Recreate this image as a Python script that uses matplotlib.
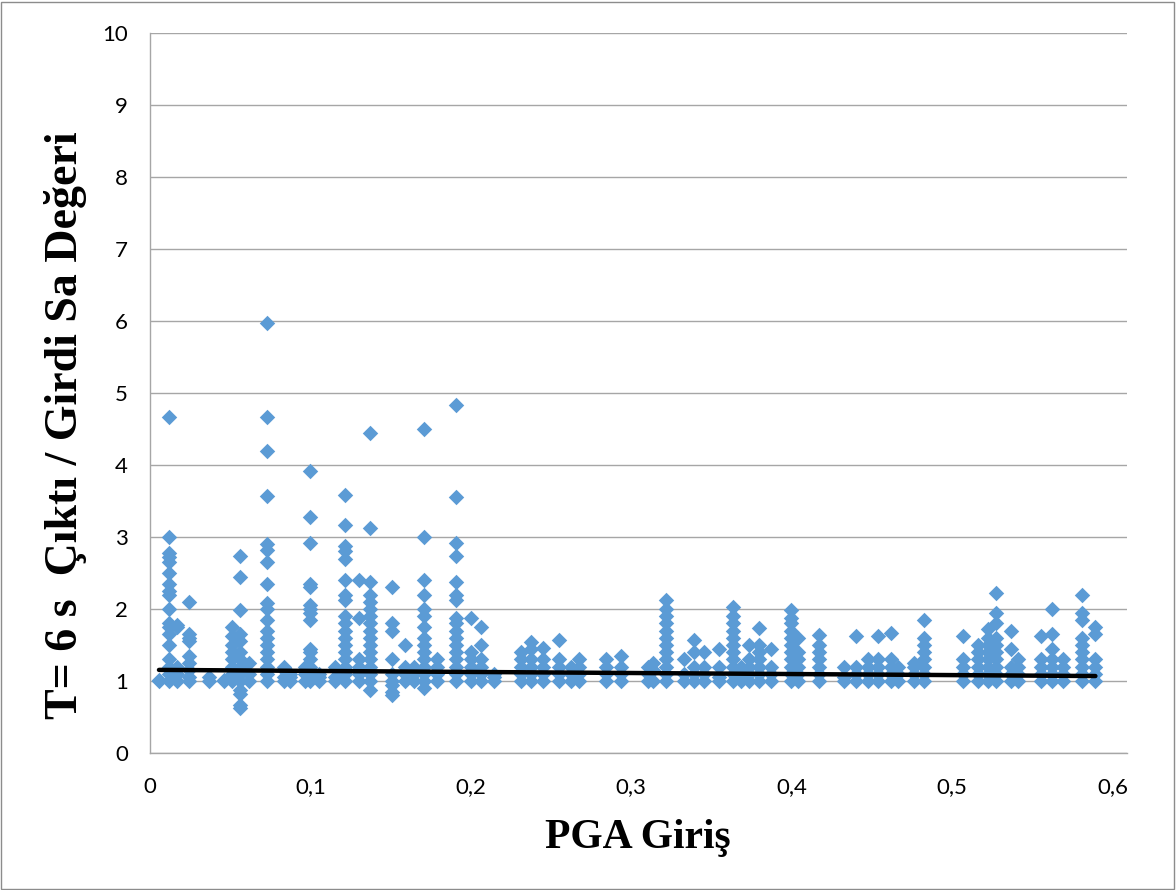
import matplotlib
matplotlib.use("Agg")
import matplotlib.pyplot as plt
import numpy as np
from matplotlib.patches import Rectangle

# PGA levels (x) and the Sa ratios recorded at each level (y)
pga_levels = [0.0056, 0.0118, 0.0168, 0.0243, 0.0367, 0.046, 0.051, 0.056, 0.0616, 0.0728,
              0.0834, 0.0871, 0.0965, 0.0996, 0.1052, 0.1151, 0.1213, 0.130, 0.1369, 0.1506,
              0.1587, 0.1643, 0.1711, 0.1786, 0.191, 0.2004, 0.2066, 0.2147, 0.2315, 0.2377,
              0.2452, 0.2551, 0.2626, 0.2676, 0.2844, 0.2937, 0.3105, 0.3136, 0.3217, 0.3329,
              0.3391, 0.3454, 0.3547, 0.3634, 0.3684, 0.3734, 0.3796, 0.387, 0.3995, 0.4039,
              0.4169, 0.4325, 0.44, 0.4474, 0.4536, 0.4617, 0.4661, 0.476, 0.4823, 0.5065,
              0.5159, 0.5221, 0.5271, 0.5364, 0.5408, 0.5551, 0.5625, 0.5694, 0.5812, 0.5893]

ratios = [
    [1.0, 1.02],
    [1.0, 1.1, 1.2, 1.3, 1.5, 1.65, 1.75, 1.8, 2.0, 2.2, 2.25, 2.35, 2.5, 2.65, 2.72, 2.78, 3.0, 4.67],
    [1.0, 1.1, 1.2, 1.75, 1.78],
    [1.0, 1.05, 1.15, 1.25, 1.35, 1.55, 1.6, 1.65, 2.1],
    [1.0, 1.05],
    [1.0, 1.02],
    [1.0, 1.1, 1.2, 1.3, 1.4, 1.5, 1.62, 1.75],
    [0.62, 0.67, 0.82, 0.88, 1.0, 1.1, 1.2, 1.3, 1.4, 1.55, 1.65, 1.98, 2.45, 2.73],
    [1.0, 1.1, 1.25],
    [1.0, 1.1, 1.2, 1.3, 1.4, 1.5, 1.6, 1.7, 1.85, 2.0, 2.08, 2.35, 2.65, 2.82, 2.9, 3.57, 4.2, 4.67, 5.97],
    [1.0, 1.05, 1.15, 1.2],
    [1.0, 1.05, 1.1],
    [1.0, 1.1, 1.2],
    [1.0, 1.1, 1.2, 1.3, 1.4, 1.45, 1.85, 1.95, 2.0, 2.05, 2.3, 2.35, 2.92, 3.28, 3.92],
    [1.0, 1.05, 1.1],
    [1.0, 1.05, 1.2],
    [1.0, 1.1, 1.2, 1.3, 1.4, 1.5, 1.6, 1.7, 1.8, 1.9, 2.13, 2.2, 2.4, 2.7, 2.8, 2.88, 3.17, 3.58],
    [1.0, 1.1, 1.2, 1.3, 1.87, 2.4],
    [0.87, 1.0, 1.1, 1.2, 1.3, 1.4, 1.5, 1.6, 1.7, 1.8, 1.9, 2.0, 2.1, 2.2, 2.38, 3.12, 4.44],
    [0.8, 0.85, 0.95, 1.0, 1.1, 1.3, 1.7, 1.8, 2.3],
    [1.0, 1.1, 1.2, 1.5],
    [1.0, 1.1, 1.2],
    [0.9, 1.0, 1.1, 1.2, 1.3, 1.4, 1.5, 1.6, 1.75, 1.9, 2.0, 2.2, 2.4, 3.0, 4.5],
    [1.0, 1.1, 1.2, 1.3],
    [1.0, 1.1, 1.2, 1.3, 1.4, 1.5, 1.6, 1.7, 1.8, 1.87, 2.13, 2.2, 2.38, 2.73, 2.92, 3.55, 4.83],
    [1.0, 1.1, 1.2, 1.3, 1.4, 1.87],
    [1.0, 1.1, 1.2, 1.3, 1.5, 1.75],
    [1.0, 1.05, 1.1],
    [1.0, 1.1, 1.2, 1.3, 1.4],
    [1.0, 1.1, 1.2, 1.3, 1.45, 1.54],
    [1.0, 1.1, 1.2, 1.3, 1.46],
    [1.0, 1.1, 1.2, 1.3, 1.57],
    [1.0, 1.1, 1.2],
    [1.0, 1.1, 1.2, 1.3],
    [1.0, 1.1, 1.2, 1.3],
    [1.0, 1.1, 1.2, 1.35],
    [1.0, 1.1, 1.2],
    [1.0, 1.15, 1.25],
    [1.0, 1.1, 1.2, 1.3, 1.4, 1.5, 1.6, 1.7, 1.8, 1.9, 2.0, 2.13],
    [1.0, 1.1, 1.3],
    [1.0, 1.1, 1.2, 1.4, 1.57],
    [1.0, 1.1, 1.2, 1.4],
    [1.0, 1.05, 1.2, 1.45],
    [1.0, 1.1, 1.2, 1.3, 1.4, 1.5, 1.6, 1.7, 1.8, 1.9, 2.03],
    [1.0, 1.1, 1.2],
    [1.0, 1.1, 1.2, 1.3, 1.5],
    [1.0, 1.1, 1.2, 1.3, 1.4, 1.5, 1.73],
    [1.0, 1.1, 1.2, 1.45],
    [1.0, 1.1, 1.2, 1.3, 1.4, 1.5, 1.6, 1.7, 1.8, 1.88, 1.98],
    [1.0, 1.1, 1.2, 1.3, 1.4, 1.6],
    [1.0, 1.1, 1.2, 1.3, 1.4, 1.5, 1.64],
    [1.0, 1.05, 1.2],
    [1.0, 1.1, 1.2, 1.62],
    [1.0, 1.1, 1.2, 1.3],
    [1.0, 1.1, 1.2, 1.3, 1.62],
    [1.0, 1.1, 1.2, 1.3, 1.67],
    [1.0, 1.1, 1.2],
    [1.0, 1.1, 1.2, 1.25],
    [1.0, 1.1, 1.2, 1.3, 1.4, 1.5, 1.6, 1.85],
    [1.0, 1.1, 1.2, 1.3, 1.62],
    [1.0, 1.1, 1.2, 1.3, 1.4, 1.5],
    [1.0, 1.1, 1.2, 1.3, 1.4, 1.5, 1.6, 1.72],
    [1.0, 1.1, 1.2, 1.3, 1.4, 1.5, 1.6, 1.8, 1.95, 2.22],
    [1.0, 1.1, 1.2, 1.45, 1.7],
    [1.0, 1.1, 1.2, 1.3],
    [1.0, 1.1, 1.2, 1.3, 1.62],
    [1.0, 1.1, 1.2, 1.3, 1.45, 1.65, 2.0],
    [1.0, 1.1, 1.2, 1.3],
    [1.0, 1.1, 1.2, 1.3, 1.4, 1.5, 1.6, 1.85, 1.95, 2.2],
    [1.0, 1.1, 1.2, 1.3, 1.65, 1.75],
]

# linear trendline
trend_intercept = 1.155
trend_slope = -0.146

x_ticks = [0, 0.1, 0.2, 0.3, 0.4, 0.5, 0.6]
x_ticklabels = ["0", "0,1", "0,2", "0,3", "0,4", "0,5", "0,6"]
y_ticks = list(range(0, 11))

xs = np.concatenate([[p] * len(r) for p, r in zip(pga_levels, ratios)])
ys = np.concatenate(ratios)

fig = plt.figure(figsize=(11.76, 8.90), dpi=100)
ax = fig.add_axes([150 / 1176, 1 - 753 / 890, (1127 - 150) / 1176, (753 - 33) / 890])

ax.scatter(xs, ys, marker="D", s=62, color="#5B9BD5", linewidths=0, zorder=3)

tx = np.array([min(pga_levels), max(pga_levels)])
ax.plot(tx, trend_intercept + trend_slope * tx, color="black", lw=3.2, solid_capstyle="round", zorder=4)

ax.set_xlim(0, 0.609)
ax.set_ylim(0, 10)
ax.set_xticks(x_ticks)
ax.set_xticklabels(x_ticklabels)
ax.set_yticks(y_ticks)
ax.yaxis.grid(True, color="#A6A6A6", lw=1.0)
ax.set_axisbelow(True)
for s in ["top", "right"]:
    ax.spines[s].set_visible(False)
for s in ["left", "bottom"]:
    ax.spines[s].set_color("#A6A6A6")
    ax.spines[s].set_linewidth(1.0)
ax.tick_params(axis="both", length=0, labelsize=16)
ax.tick_params(axis="y", pad=16)
ax.tick_params(axis="x", pad=17)
for lab in ax.get_xticklabels() + ax.get_yticklabels():
    lab.set_family("Lato")

fig.text(638 / 1176, 1 - 838 / 890, "PGA Giriş", ha="center", va="center",
         family="Liberation Serif", weight="bold", fontsize=30)
fig.text(66 / 1176, 1 - 425 / 890, "T= 6 s  Çıktı / Girdi Sa Değeri", ha="center", va="center",
         rotation=90, family="Liberation Serif", weight="bold", fontsize=33)

fig.patches.append(Rectangle((0.001, 0.001), 0.997, 0.997, transform=fig.transFigure,
                             fill=False, edgecolor="#8C8C8C", lw=1.0))

fig.savefig("out.png", dpi=100)
